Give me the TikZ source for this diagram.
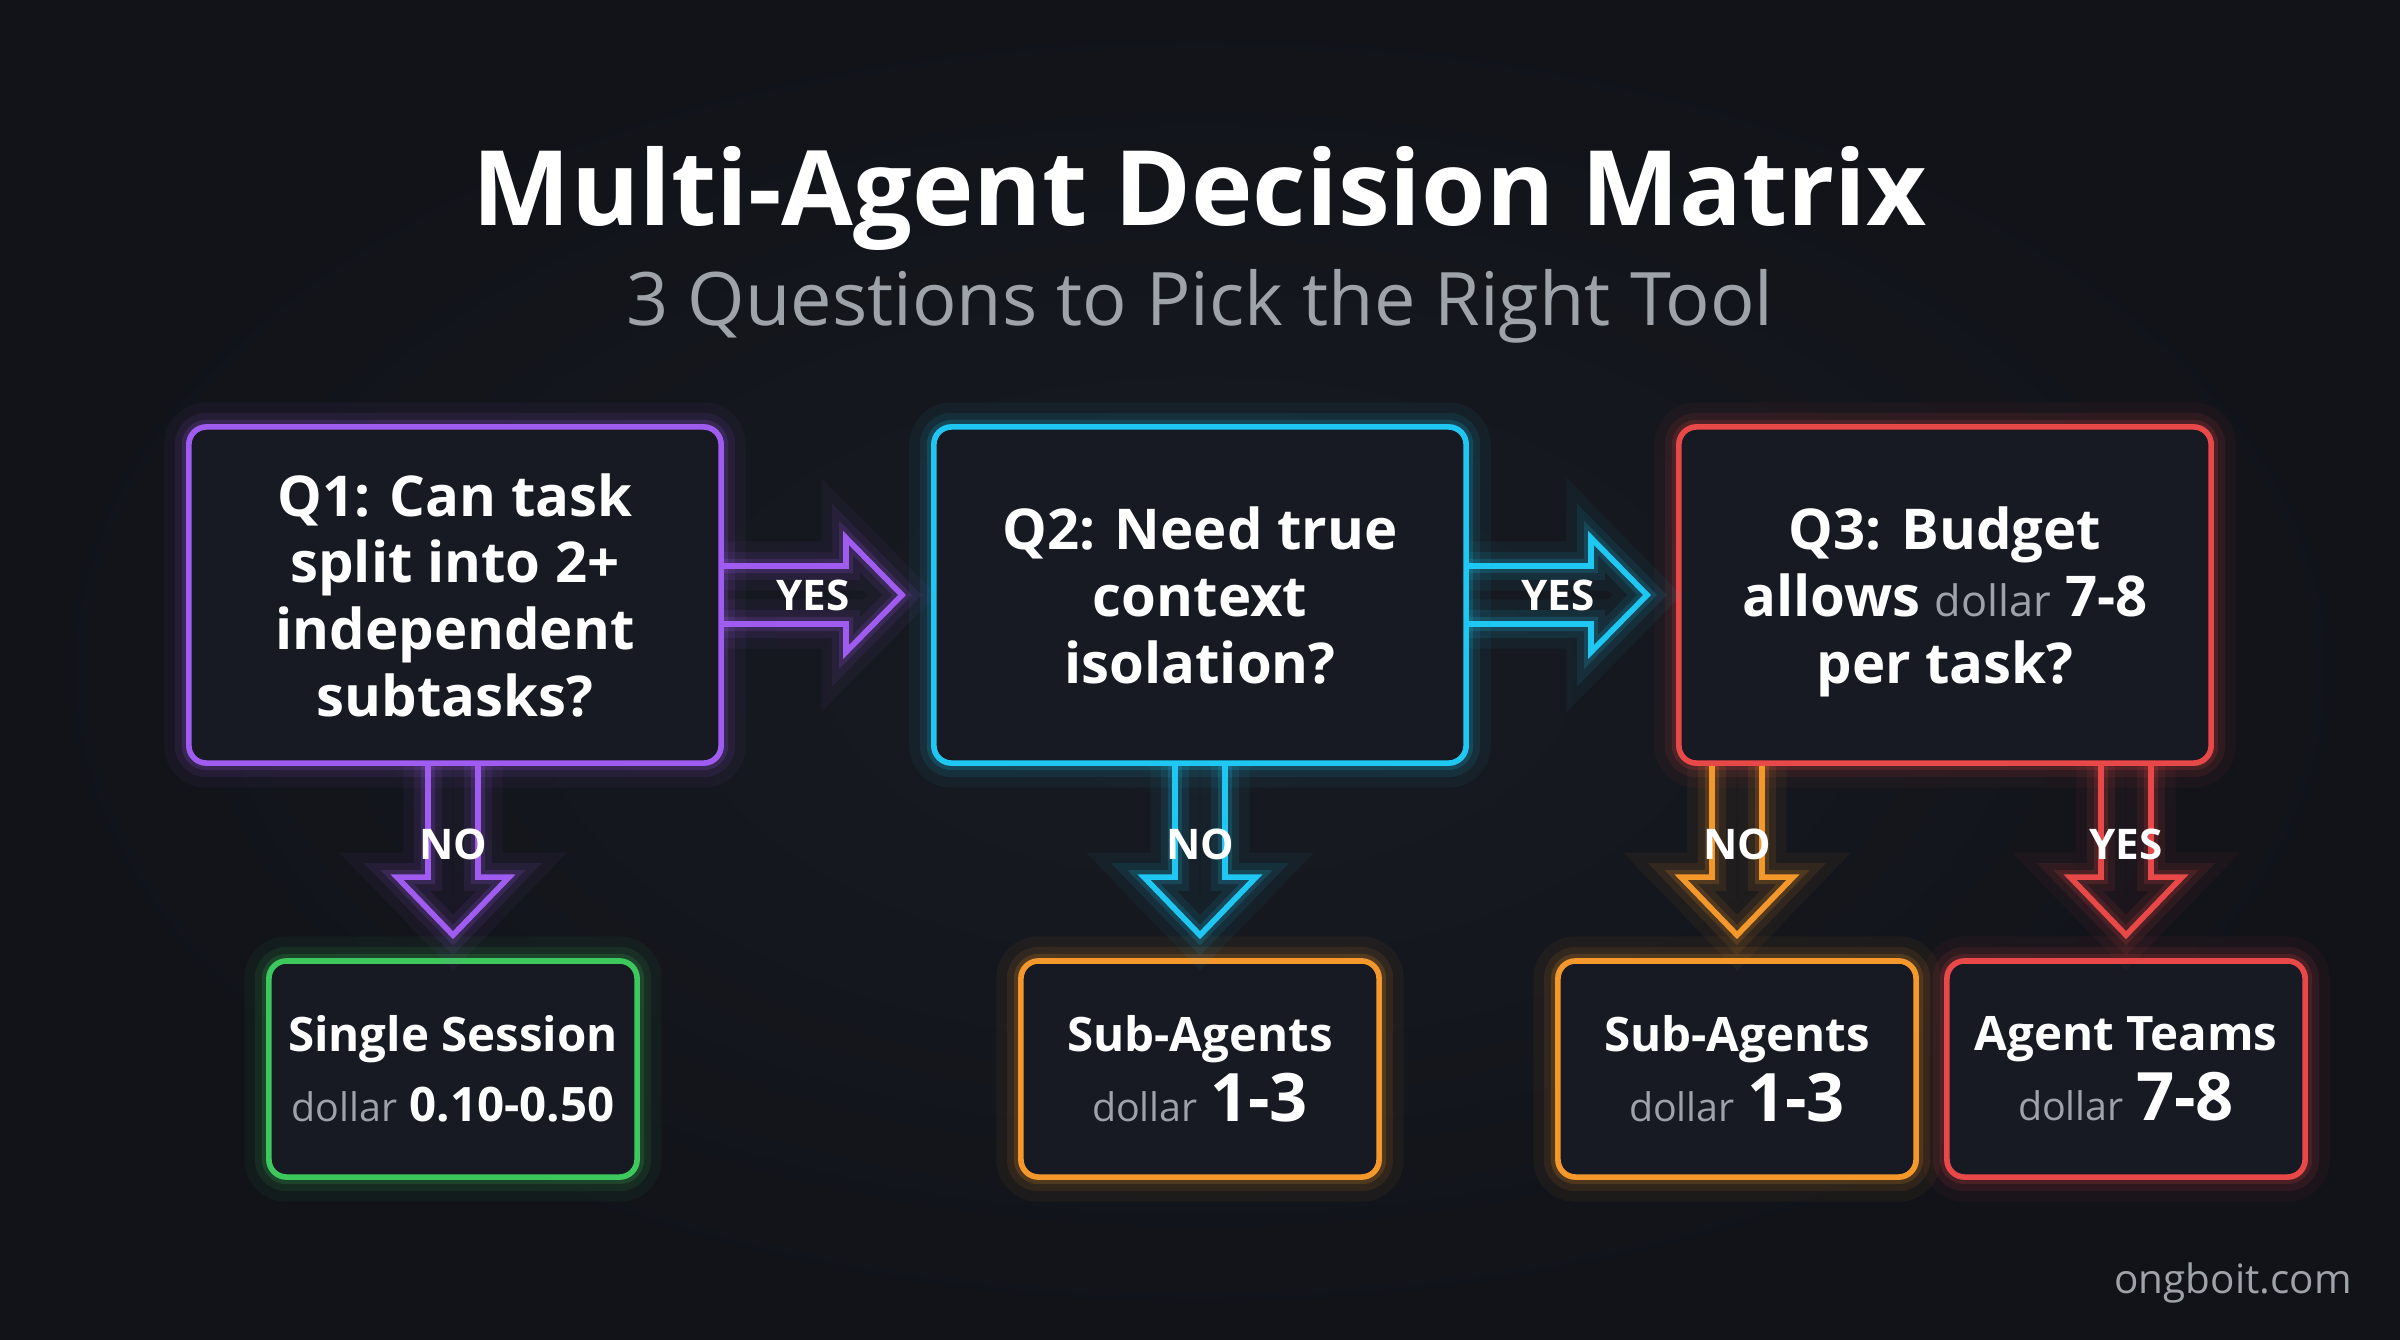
\documentclass[tikz,border=0pt]{standalone}
\usepackage{fontspec}
\setmainfont{Open Sans}
\usetikzlibrary{calc}
\definecolor{sfondo}{HTML}{111319}
\definecolor{centro}{HTML}{181B22}
\definecolor{riquadro}{HTML}{171A22}
\definecolor{viola}{HTML}{A05CF0}
\definecolor{ciano}{HTML}{1EC8F2}
\definecolor{rosso}{HTML}{E84848}
\definecolor{verde}{HTML}{3CC85C}
\definecolor{arancio}{HTML}{F5982C}
\definecolor{grigio}{HTML}{9EA2A9}
\newcommand\dollaro[1][11.2]{{\fontsize{#1}{14}\selectfont\mdseries\color{grigio}dollar}}
\newcommand\grande[1]{{\fontsize{19}{20}\selectfont #1}}
\tikzset{
x=0.01cm, y=-0.01cm,
bagliore/.style={preaction={draw=#1,draw opacity=0.05,line width=14pt},
  preaction={draw=#1,draw opacity=0.09,line width=8pt},
  preaction={draw=#1,draw opacity=0.16,line width=4pt}},
domanda/.style={draw=#1,bagliore=#1,fill=riquadro,line width=1.6pt,rounded corners=5pt,
  minimum width=5.32cm,minimum height=3.36cm,align=center,text=white,text depth=0pt,
  font=\fontsize{16}{19}\selectfont\bfseries},
esito/.style={draw=#1,bagliore=#1,fill=riquadro,line width=1.6pt,rounded corners=5pt,
  minimum width=3.58cm,minimum height=2.16cm,align=center,text=white,
  font=\fontsize{13.5}{20}\selectfont\bfseries},
etichetta/.style={text=white,inner sep=1pt,font=\fontsize{12}{14}\selectfont\bfseries},
freccia/.style={draw=#1,line width=1.6pt,line join=miter,bagliore=#1},
blocco destra/.style={to path={
  ($(\tikztostart)+(0,-29)$) -- ($(\tikztotarget)+(-85,-29)$) -- ($(\tikztotarget)+(-85,-57)$)
  -- ($(\tikztotarget)+(-29,0)$) -- ($(\tikztotarget)+(-85,57)$) -- ($(\tikztotarget)+(-85,29)$)
  -- ($(\tikztostart)+(0,29)$)}},
blocco giu/.style={to path={
  ($(\tikztostart -| \tikztotarget)+(-25,0)$) -- ($(\tikztotarget)+(-25,-81)$) -- ($(\tikztotarget)+(-56,-81)$)
  -- ($(\tikztotarget)+(0,-23)$) -- ($(\tikztotarget)+(56,-81)$) -- ($(\tikztotarget)+(25,-81)$)
  -- ($(\tikztostart -| \tikztotarget)+(25,0)$)}}}

\begin{document}
\begin{tikzpicture}
\useasboundingbox (0,0) rectangle (2400,1339);
\fill[sfondo] (0,0) rectangle (2400,1339);
\shade[inner color=centro,outer color=sfondo] (0,0) rectangle (2400,1339);

\node[anchor=base,text=white,font=\fontsize{29.6}{35}\selectfont\bfseries] (titolo) at (1200,225) {Multi-Agent Decision Matrix};
\node[anchor=base,text=grigio,font=\fontsize{21}{24}\selectfont] (sotto) at (1200,325) {3 Questions to Pick the Right Tool};

\node[domanda=viola] (q1) at (455,595) {Q1: Can task\\split into 2+\\independent\\subtasks?};
\node[domanda=ciano] (q2) at (1200,595) {Q2: Need true\\context\\isolation?};
\node[domanda=rosso] (q3) at (1945,595) {Q3: Budget\\allows \dollaro[12.3]{} 7-8\\per task?};

\node[esito=verde,minimum width=3.68cm] (r1) at (453,1069) {Single Session\\\dollaro{} 0.10-0.50};
\node[esito=arancio] (r2) at (1200,1069) {Sub-Agents\\\dollaro{} \grande{1-3}};
\node[esito=arancio] (r3) at (1737,1069) {Sub-Agents\\\dollaro{} \grande{1-3}};
\node[esito=rosso] (r4) at (2126,1069) {Agent Teams\\\dollaro{} \grande{7-8}};

\path (q1.east) edge[blocco destra,freccia=viola] (q2.west)
      (q2.east) edge[blocco destra,freccia=ciano] (q3.west);
\path (q1.south) edge[blocco giu,freccia=viola] (r1.north)
      (q2.south) edge[blocco giu,freccia=ciano] (r2.north)
      (q3.south) edge[blocco giu,freccia=arancio] (r3.north)
      (q3.south) edge[blocco giu,freccia=rosso] (r4.north);

\node[etichetta] (si1) at ($(q2.west)+(-118,0)$) {YES};
\node[etichetta] (si2) at ($(q3.west)+(-118,0)$) {YES};
\node[etichetta] (no1) at ($(r1.north)+(0,-114)$) {NO};
\node[etichetta] (no2) at ($(r2.north)+(0,-114)$) {NO};
\node[etichetta] (no3) at ($(r3.north)+(0,-114)$) {NO};
\node[etichetta] (si3) at ($(r4.north)+(0,-114)$) {YES};

\node[anchor=base east,text=grigio,font=\fontsize{11.5}{14}\selectfont] (sito) at (2364,1293) {ongboit.com};
\end{tikzpicture}
\end{document}
